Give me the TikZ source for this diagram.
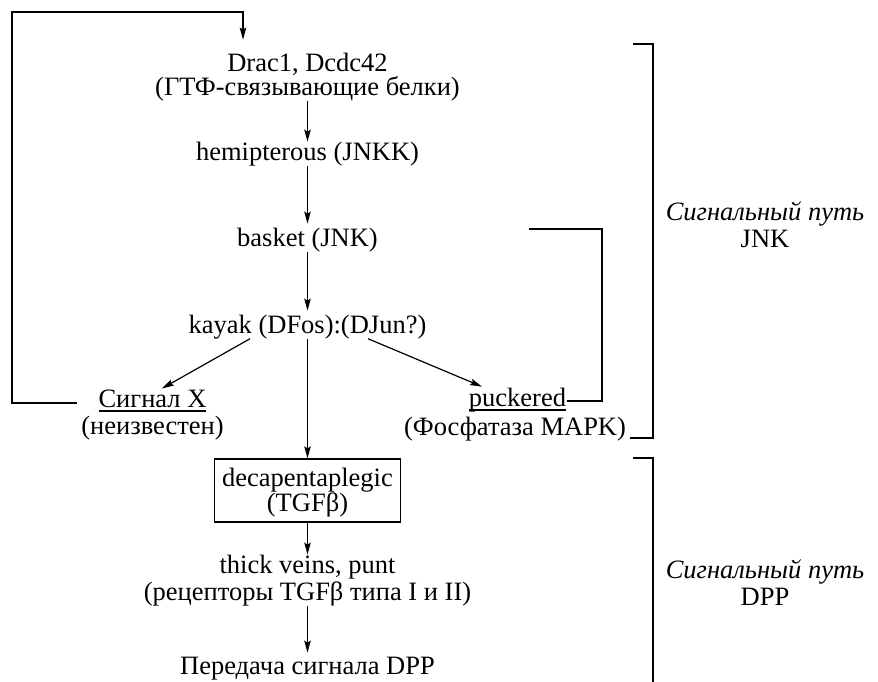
\documentclass[tikz,border=0pt]{standalone}
\usepackage{fontspec}
\setmainfont{Liberation Serif}
\usetikzlibrary{arrows.meta,calc}
\newcommand{\uln}[1]{\setbox0\hbox{#1}\leavevmode\rlap{\vrule width\wd0 height -3.4pt depth 5.4pt}\box0}
\begin{document}
\begin{tikzpicture}[x=1pt,y=-1pt,line width=1.2pt,
  lbl/.style={font=\fontsize{26.5}{30}\selectfont, inner sep=0pt, outer sep=0pt, anchor=base},
  lbli/.style={lbl, font=\fontsize{26.5}{30}\selectfont\itshape},
  arr/.style={-{Stealth[length=12pt,width=6.5pt,inset=2pt]}},
  boxnode/.style={draw, inner sep=0pt, minimum width=186pt, minimum height=63pt}]
\useasboundingbox (0,0) rectangle (878,681);

% trunk labels
\node[lbl] (drac1) at (307.5,71) {Drac1, Dcdc42};
\node[lbl] (drac2) at (307.5,95) {(ГТФ-связывающие белки)};
\node[lbl] (hemi) at (307.5,160) {hemipterous (JNKK)};
\node[lbl] (basket) at (307.5,246) {basket (JNK)};
\node[lbl] (kayak) at (307.5,333) {kayak (DFos):(DJun?)};
\node[lbl] (sigx1) at (152.5,407) {\uln{Сигнал X}};
\node[lbl] (sigx2) at (152.5,434) {(неизвестен)};
\node[lbl] (puck1) at (517.5,406) {\uln{puckered}};
\node[lbl] (puck2) at (515,435) {(Фосфатаза MAPK)};
\node[boxnode] (dppbox) at (307.5,490.5) {};
\node[lbl] (deca1) at (307.5,486) {decapentaplegic};
\node[lbl] (deca2) at (307.5,511) {(TGFβ)};
\node[lbl] (thick1) at (307.5,573) {thick veins, punt};
\node[lbl] (thick2) at (307.5,600) {(рецепторы TGFβ типа I и II)};
\node[lbl] (pered) at (307.5,674) {Передача сигнала DPP};

% side labels
\node[lbli] (jnk1) at (765,220) {Сигнальный путь};
\node[lbl] (jnk2) at (765,247) {JNK};
\node[lbli] (dpp1) at (765,578) {Сигнальный путь};
\node[lbl] (dpp2) at (765,605) {DPP};

% trunk arrows
\draw[arr] (drac2.south) -- (drac2.south |- hemi.north);
\draw[arr,shorten >=4pt] (hemi.south) -- (hemi.south |- basket.north);
\draw[arr,shorten >=4pt] (basket.south) -- (basket.south |- kayak.north);
\draw[arr] (kayak.south) -- (kayak.south |- dppbox.north);
\draw[arr] (dppbox.south) -- (dppbox.south |- thick1.north);
\draw[arr,shorten >=4pt] (thick2.south) -- (thick2.south |- pered.north);

% branches
\draw[arr] ([xshift=-57.5pt]kayak.south) -- ($(sigx1.north)+(9.5,-1)$);
\draw[arr] ([xshift=60.5pt]kayak.south) -- ($(puck1.north)+(-35.5,-1)$);

% feedback loop from Signal X to Drac1
\coordinate (fbs) at ($(sigx1.base west)+(-22,-4)$);
\draw[arr,shorten >=13pt] (fbs) -- (12,403) |- (243,12) -- ([xshift=-64.5pt]drac1.north);

% puckered loop
\coordinate (pks) at ($(puck1.base east)+(1,-5)$);
\coordinate (pke) at (529,229);
\draw (pks) -- (602,401) |- (pke);

% brackets
\draw (633,44) -- (653,44) -- (653,438) -- (630,438);
\draw (633,458) -- (653,458) -- (653,690);
\end{tikzpicture}
\end{document}
